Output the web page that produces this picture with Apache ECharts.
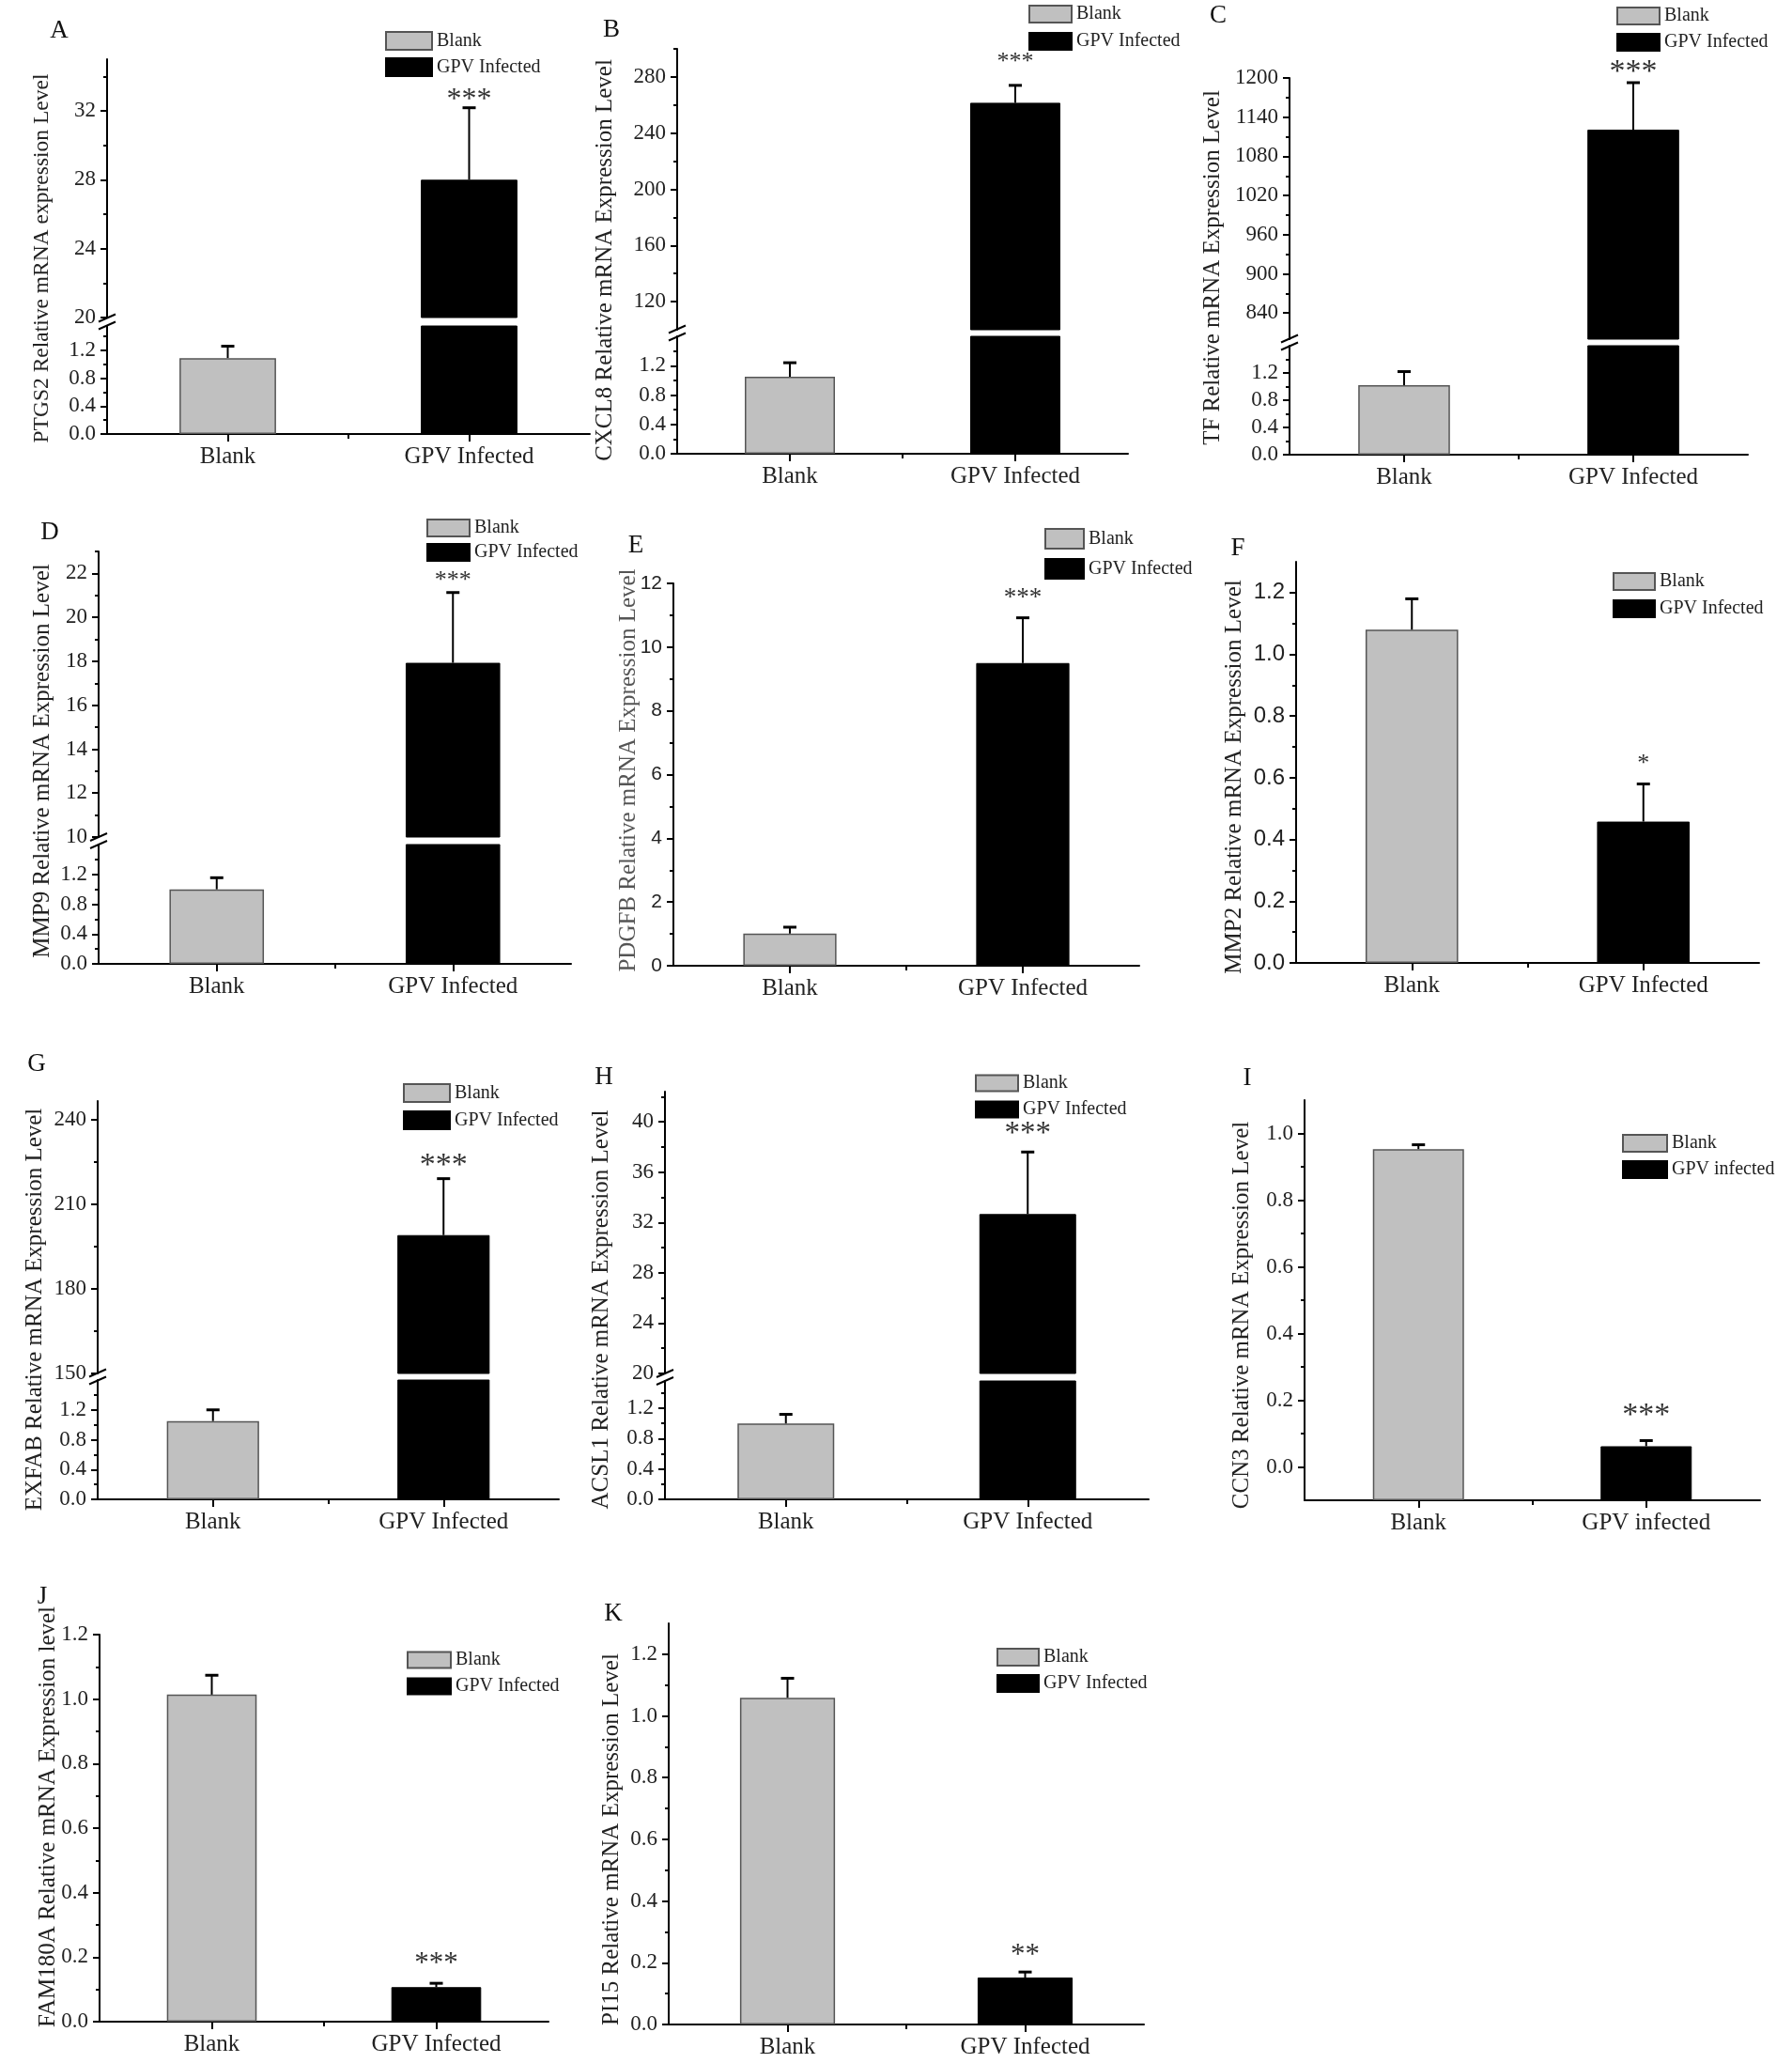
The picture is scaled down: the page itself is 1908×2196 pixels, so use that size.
<!DOCTYPE html>
<html><head><meta charset="utf-8">
<script src="https://cdn.jsdelivr.net/npm/echarts@6/dist/echarts.min.js"></script>
<style>html,body{margin:0;padding:0;background:#fff}#c{width:1908px;height:2196px}</style>
</head><body><div id="c"></div>
<script>
// ================= DATA =================
const panelLetters = ['A','B','C','D','E','F','G','H','I','J','K'];
const yTitles = [
  'PTGS2 Relative mRNA expression Level',
  'CXCL8 Relative mRNA Expression Level',
  'TF Relative mRNA Expression Level',
  'MMP9 Relative mRNA Expression Level',
  'PDGFB Relative mRNA Expression Level',
  'MMP2 Relative mRNA Expression Level',
  'EXFAB Relative mRNA Expression Level',
  'ACSL1 Relative mRNA Expression Level',
  'CCN3 Relative mRNA Expression Level',
  'FAM180A Relative mRNA Expression level',
  'PI15 Relative mRNA Expression Level'
];
const categories = ['Blank', 'GPV Infected'];
const categoriesI = ['Blank', 'GPV infected'];
const blankMeans  = [1.09, 1.05, 1.02, 1.00, 1.01, 1.08, 1.05, 1.00, 0.953, 1.014, 1.059];
const blankErrors = [0.17, 0.19, 0.20, 0.155, 0.20, 0.10, 0.15, 0.12, 0.013, 0.06, 0.063];
const gpvMeans    = [28.0, 261.6, 1120.8, 17.93, 9.5, 0.458, 199, 32.67, 0.062, 0.107, 0.152];
const gpvErrors   = [4.18, 12.4, 72, 3.2, 1.42, 0.122, 20, 4.93, 0.017, 0.012, 0.018];
const significance = ['***','***','***','***','***','*','***','***','***','***','**'];

// axis ranges (lower = whole axis for unbroken panels)
const lowerRanges = [[0,1.55],[0,1.6],[0,1.6],[0,1.6],[0,12],[0,1.3],[0,1.6],[0,1.56],[-0.1,1.1],[0,1.2],[0,1.3]];
const upperRanges = [[20,35],[100,300],[800,1200],[10,23],null,null,[150,246.5],[20,42.4],null,null,null];

// tick labels
const brokenLowTicks = [0, 0.4, 0.8, 1.2];
const brokenLowMinor = [0.2, 0.6, 1.0, 1.4];
const lowerTicks = [
  brokenLowTicks, brokenLowTicks, brokenLowTicks, brokenLowTicks,
  [0,2,4,6,8,10,12],
  [0,0.2,0.4,0.6,0.8,1.0,1.2],
  brokenLowTicks, brokenLowTicks,
  [0,0.2,0.4,0.6,0.8,1.0],
  [0,0.2,0.4,0.6,0.8,1.0,1.2],
  [0,0.2,0.4,0.6,0.8,1.0,1.2]
];
const lowerMinorTicks = [
  brokenLowMinor, brokenLowMinor, brokenLowMinor, brokenLowMinor,
  [1,3,5,7,9,11],
  [0.1,0.3,0.5,0.7,0.9,1.1],
  brokenLowMinor, brokenLowMinor,
  [0.1,0.3,0.5,0.7,0.9],
  [0.1,0.3,0.5,0.7,0.9,1.1],
  [0.1,0.3,0.5,0.7,0.9,1.1]
];
const upperTicks = [
  [20,24,28,32], [120,160,200,240,280], [840,900,960,1020,1080,1140,1200], [10,12,14,16,18,20,22],
  null, null, [150,180,210,240], [20,24,28,32,36,40], null, null, null
];
const upperMinorTicks = [
  [22,26,30,34], [140,180,220,260,300], [870,930,990,1050,1110,1170], [11,13,15,17,19,21,23],
  null, null, [165,195,225], [22,26,30,34,38,42], null, null, null
];

// ================= LAYOUT / STYLE =================
const SERIF = '"Liberation Serif","Times New Roman",serif';
const SANS = '"Liberation Sans",Arial,sans-serif';
const layout = [
  {xl:114, xr:628, yt:63,  yb:462, ub:338, lt:347, title:[45,275],  titleFs:23.5, letter:[63,33],   lg:[410,33,49,19,7],   starFs:32, starGap:12},
  {xl:721, xr:1201,yt:52,  yb:483, ub:351, lt:358, title:[644,277], letter:[651,32],  lg:[1095,5,45,18,9],   starFs:26, starGap:28},
  {xl:1373,xr:1861,yt:83,  yb:484, ub:361, lt:368, title:[1291,285],letter:[1297,17], lg:[1721,7,45,18,8],   starFs:34, starGap:15},
  {xl:105, xr:608, yt:587, yb:1026,ub:891, lt:899, title:[45,810],  letter:[53,567],  lg:[454,552,45,18,6],  starFs:26, starGap:16},
  {xl:717, xr:1213,yt:621, yb:1028,                title:[669,820], letter:[677,581], lg:[1112,562,41,21,9], starFs:27, starGap:24, tickSans:true, tickFs:21, titleColor:'#555'},
  {xl:1380,xr:1873,yt:598, yb:1025,                title:[1314,827],letter:[1318,584],lg:[1717,609,44,18,9], starFs:26, starGap:25, tickSans:true, tickFs:24},
  {xl:104, xr:595, yt:1172,yb:1596,ub:1462,lt:1469,title:[37,1394], letter:[39,1133], lg:[429,1153,49,19,8], starFs:34, starGap:18},
  {xl:708, xr:1223,yt:1162,yb:1596,ub:1462,lt:1470,title:[640,1394],letter:[643,1147],lg:[1038,1143,45,17,8],starFs:33, starGap:23},
  {xl:1389,xr:1874,yt:1171,yb:1597,                title:[1322,1400],letter:[1328,1148],lg:[1727,1207,47,18,8],starFs:34, starGap:31},
  {xl:106, xr:584, yt:1740,yb:2152,                title:[51,1934], letter:[45,1700], lg:[433,1757,46,17,8], starFs:31, starGap:24},
  {xl:712, xr:1218,yt:1728,yb:2155,                title:[651,1958],letter:[653,1718],lg:[1061,1754,44,18,8],starFs:31, starGap:21}
];

const BLANK_STYLE = {color:'#c0c0c0', borderColor:'#555', borderWidth:1.5};
const GPV_STYLE = {color:'#000', borderColor:'#000', borderWidth:1};
const LINE = {color:'#000', width:2};

function decimalsOf(ticks) {
  return ticks.some(t => Math.abs(t - Math.round(t)) > 1e-9) ? 1 : 0;
}

const option = {
  animation: false,
  backgroundColor: '#fff',
  grid: [], xAxis: [], yAxis: [], series: [], legend: [], graphic: []
};

function addGrid(p, top, bottom, range, ticks, minors, showX, hasGpvErr) {
  const L = layout[p];
  const names = p === 8 ? categoriesI : categories;
  const gi = option.grid.length;
  option.grid.push({left: L.xl, top: top, width: L.xr - L.xl, height: bottom - top,
    containLabel: false, outerBoundsMode: 'none'});
  const xi = option.xAxis.length;
  option.xAxis.push({
    gridIndex: gi, type: 'category', data: names, position: 'bottom',
    axisLine: {show: showX, onZero: false, lineStyle: LINE},
    axisTick: {show: showX, alignWithLabel: true, length: 8, lineStyle: LINE},
    axisLabel: {show: showX, fontFamily: SERIF, fontSize: 25, color: '#222', margin: 12},
    splitLine: {show: false}
  });
  if (showX) {
    option.xAxis.push({
      gridIndex: gi, type: 'value', min: 0, max: 2, position: 'bottom',
      axisLine: {show: false, onZero: false},
      axisTick: {show: true, customValues: [1], length: 5, lineStyle: LINE},
      axisLabel: {show: false}, splitLine: {show: false}
    });
  }
  const yi = option.yAxis.length;
  const dec = decimalsOf(ticks);
  const yMain = {
    gridIndex: gi, type: 'value', min: range[0], max: range[1], position: 'left',
    axisLine: {show: true, onZero: false, lineStyle: LINE},
    axisTick: {show: true, customValues: ticks, length: 7, lineStyle: LINE},
    axisLabel: {show: true, customValues: ticks, formatter: v => Number(v).toFixed(dec),
      fontFamily: L.tickSans ? SANS : SERIF, fontSize: L.tickFs || 23, color: '#222', margin: 12},
    splitLine: {show: false}
  };
  if (range[0] < 0) yMain.startValue = range[0];   // bars rise from the axis floor
  option.yAxis.push(yMain);
  option.yAxis.push({
    gridIndex: gi, type: 'value', min: range[0], max: range[1], position: 'left',
    axisLine: {show: false, onZero: false},
    axisTick: {show: true, customValues: minors, length: 4, lineStyle: LINE},
    axisLabel: {show: false}, splitLine: {show: false}
  });

  option.series.push({
    type: 'bar', name: names[0], xAxisIndex: xi, yAxisIndex: yi, silent: true,
    data: [blankMeans[p], '-'], barWidth: '40%', barGap: '-100%', clip: true,
    itemStyle: BLANK_STYLE
  });
  option.series.push({
    type: 'bar', name: names[1], xAxisIndex: xi, yAxisIndex: yi, silent: true,
    data: ['-', gpvMeans[p]], barWidth: '40%', barGap: '-100%', clip: true,
    itemStyle: GPV_STYLE
  });
  // error bars (upper side only)
  option.series.push({
    type: 'custom', xAxisIndex: xi, yAxisIndex: yi, clip: true, silent: true, z: 5,
    data: [[0, blankMeans[p], blankErrors[p]], [1, gpvMeans[p], gpvErrors[p]]],
    encode: {x: 0, y: 1},
    renderItem: (params, api) => {
      const x = api.value(0), m = api.value(1), e = api.value(2);
      const p0 = api.coord([x, m]);
      const p1 = api.coord([x, m + e]);
      const cap = 7;
      return {type: 'group', children: [
        {type: 'line', shape: {x1: p0[0], y1: p0[1], x2: p1[0], y2: p1[1]}, style: {stroke: '#000', lineWidth: 2}},
        {type: 'line', shape: {x1: p1[0] - cap, y1: p1[1], x2: p1[0] + cap, y2: p1[1]}, style: {stroke: '#000', lineWidth: 3}}
      ]};
    }
  });
  if (hasGpvErr) {
    option.series.push({
      type: 'custom', xAxisIndex: xi, yAxisIndex: yi, clip: false, silent: true, z: 6,
      data: [[1, gpvMeans[p], gpvErrors[p]]],
      encode: {x: 0, y: 1},
      renderItem: (params, api) => {
        const pt = api.coord([api.value(0), api.value(1) + api.value(2)]);
        return {type: 'text', x: pt[0], y: pt[1] - L.starGap + 0.13 * L.starFs,
          style: {text: significance[p], fill: '#333', fontSize: L.starFs, fontFamily: SERIF,
            align: 'center', verticalAlign: 'middle'}};
      }
    });
  }
}

for (let p = 0; p < panelLetters.length; p++) {
  const L = layout[p];
  const names = p === 8 ? categoriesI : categories;
  const broken = !!upperRanges[p];
  if (broken) {
    addGrid(p, L.lt, L.yb, lowerRanges[p], lowerTicks[p], lowerMinorTicks[p], true, false);
    addGrid(p, L.yt, L.ub, upperRanges[p], upperTicks[p], upperMinorTicks[p], false, true);
    // axis break marks
    const c = (L.ub + L.lt) / 2;
    [-4, 4].forEach(d => {
      option.graphic.push({type: 'line', silent: true, z: 100,
        shape: {x1: L.xl - 9, y1: c + d + 4, x2: L.xl + 9, y2: c + d - 4},
        style: {stroke: '#000', lineWidth: 2}});
    });
  } else {
    addGrid(p, L.yt, L.yb, lowerRanges[p], lowerTicks[p], lowerMinorTicks[p], true, true);
  }
  option.legend.push({
    left: L.lg[0], top: L.lg[1], orient: 'vertical', padding: 0,
    itemWidth: L.lg[2], itemHeight: L.lg[3], itemGap: L.lg[4],
    icon: 'rect', selectedMode: false, data: names,
    textStyle: {fontFamily: SERIF, fontSize: 20, color: '#222'}
  });
  option.graphic.push({type: 'text', silent: true, x: L.letter[0], y: L.letter[1],
    style: {text: panelLetters[p], fontSize: 27, fontFamily: SERIF, fill: '#111', align: 'center', verticalAlign: 'middle'}});
  option.graphic.push({type: 'text', silent: true, x: L.title[0], y: L.title[1], rotation: Math.PI / 2,
    style: {text: yTitles[p], fontSize: L.titleFs || 25, fontFamily: SERIF, fill: L.titleColor || '#222', align: 'center', verticalAlign: 'middle'}});
}

const chart = echarts.init(document.getElementById('c'), null, {renderer: 'canvas', width: 1908, height: 2196});
chart.setOption(option);
</script>
</body></html>
